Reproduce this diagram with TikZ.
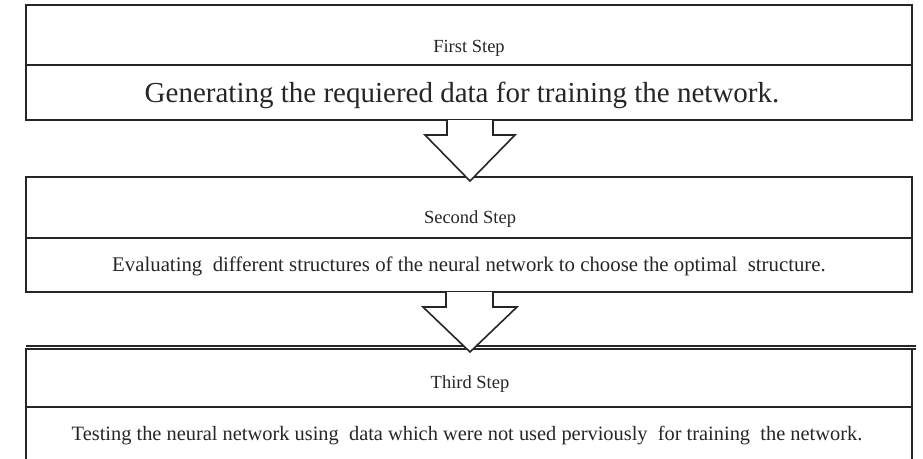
\documentclass[tikz,border=0pt]{standalone}
\usepackage{fontspec}
\setmainfont{Liberation Serif}
\usetikzlibrary{calc}
\begin{document}
\begin{tikzpicture}[x=1pt,y=-1pt,
  box/.style={rectangle, draw=black!85, line width=1.6pt, minimum width=886pt, inner sep=0pt, outer sep=0pt},
  ttl/.style={anchor=base, inner sep=0pt, font=\fontsize{18.5}{20}\selectfont, text=black!85},
  big/.style={anchor=base, inner sep=0pt, font=\fontsize{29}{32}\selectfont, text=black!85},
  txt/.style={anchor=base, inner sep=0pt, font=\fontsize{20.8}{23}\selectfont, text=black!85},
  txtb/.style={anchor=base, inner sep=0pt, font=\fontsize{20.4}{23}\selectfont, text=black!85},
  blockarrow/.style={draw=black!85, line width=1.6pt, fill=white, line join=miter}
]
\clip (0,0) rectangle (923,458);
\fill[white] (0,0) rectangle (923,458);

% boxes
\node[box, minimum height=60pt] (b1t) at (469,35) {};
\node[box, minimum height=55pt] (b1b) at (469,92.5) {};
\node[box, minimum height=61pt] (b2t) at (469,207.5) {};
\node[box, minimum height=54pt] (b2b) at (469,265) {};
\node[box, minimum height=58pt] (b3t) at (469,378) {};
\node[box, minimum height=63pt] (b3b) at (469,438.5) {};

% double top line of third box
\draw[draw=black!85, line width=1.2pt] ($(b3t.north west)+(0,-3)$) -- ($(b3t.north east)+(4,-3)$);
\draw[draw=black!85, line width=1.6pt] (b3t.north east) -- ++(4,0);

% texts
\node[ttl] (s1) at (469,52) {First Step};
\node[big] (t1) at (462,102) {Generating the requiered data for training the network.};
\node[ttl] (s2) at (470,223) {Second Step};
\node[txt] (t2) at (469,271) {Evaluating\ \ different structures of the neural network to choose the optimal\ \ structure.};
\node[ttl] (s3) at (470,388) {Third Step};
\node[txtb] (t3) at (467,440) {Testing the neural network using\ \ data which were not used perviously\ \ for training\ \ the network.};

% block arrows
\draw[blockarrow] ($(b1b.south)+(-22,0)$) -- ++(0,15) -- ++(-22,0)
  -- ($(b2t.north)+(1,4)$) -- ($(b1b.south)+(46,15)$) -- ++(-22,0) -- ($(b1b.south)+(24,0)$);
\draw[blockarrow] ($(b2b.south)+(-23,0)$) -- ++(0,15) -- ++(-23,0)
  -- ($(b3t.north)+(1,3)$) -- ($(b2b.south)+(48,15)$) -- ++(-24,0) -- ($(b2b.south)+(24,0)$);
\end{tikzpicture}
\end{document}
